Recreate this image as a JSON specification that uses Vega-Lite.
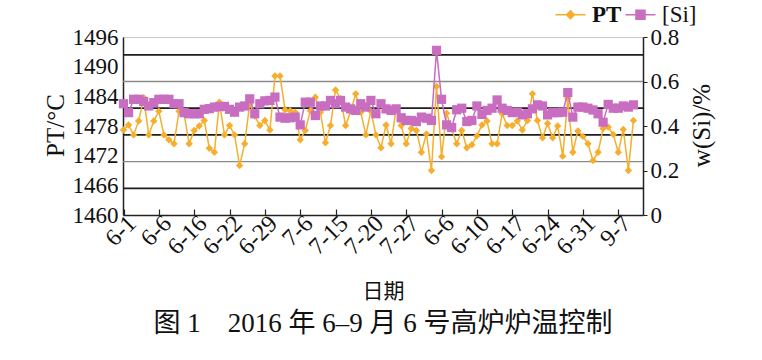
{
  "$schema": "https://vega.github.io/schema/vega-lite/v6.json",
  "width": 520,
  "height": 178,
  "autosize": {"type": "none"},
  "padding": {"left": 123, "top": 37, "right": 119, "bottom": 145},
  "background": "white",
  "config": {
    "view": {"stroke": "#c8c8c8", "strokeWidth": 1},
    "font": "Liberation Serif",
    "axis": {"labelFont": "Liberation Serif", "titleFont": "Liberation Serif", "labelColor": "#111", "titleColor": "#111", "domainColor": "#222", "tickColor": "#222", "domainWidth": 1.5, "grid": false, "titleFontWeight": "normal"}
  },
  "title": {
    "text": "图 1\u20032016 年 6–9 月 6 号高炉炉温控制",
    "orient": "bottom",
    "anchor": "middle",
    "font": "Liberation Serif, Noto Sans CJK SC",
    "fontSize": 27,
    "fontWeight": "normal",
    "color": "#111",
    "offset": 10
  },
  "datasets": {
    "grid": [
      {"g": 0.72, "kind": "dark"},
      {"g": 0.6, "kind": "light"},
      {"g": 0.48, "kind": "dark"},
      {"g": 0.36, "kind": "dark"},
      {"g": 0.24, "kind": "light"},
      {"g": 0.12, "kind": "dark"}
    ],
    "series": [
      {"i": 0, "PT": 1477.2, "Si": 0.5},
      {"i": 1, "PT": 1478.2, "Si": 0.46},
      {"i": 2, "PT": 1476.2, "Si": 0.52},
      {"i": 3, "PT": 1479.0, "Si": 0.52},
      {"i": 4, "PT": 1483.7, "Si": 0.51},
      {"i": 5, "PT": 1476.2, "Si": 0.49},
      {"i": 6, "PT": 1479.0, "Si": 0.505},
      {"i": 7, "PT": 1481.0, "Si": 0.52},
      {"i": 8, "PT": 1476.2, "Si": 0.52},
      {"i": 9, "PT": 1475.2, "Si": 0.52},
      {"i": 10, "PT": 1474.4, "Si": 0.5},
      {"i": 11, "PT": 1481.0, "Si": 0.5},
      {"i": 12, "PT": 1480.5, "Si": 0.46},
      {"i": 13, "PT": 1474.4, "Si": 0.455},
      {"i": 14, "PT": 1477.1, "Si": 0.455},
      {"i": 15, "PT": 1478.0, "Si": 0.455},
      {"i": 16, "PT": 1479.1, "Si": 0.475},
      {"i": 17, "PT": 1473.5, "Si": 0.478},
      {"i": 18, "PT": 1472.7, "Si": 0.485},
      {"i": 19, "PT": 1482.8, "Si": 0.487},
      {"i": 20, "PT": 1476.2, "Si": 0.488},
      {"i": 21, "PT": 1478.1, "Si": 0.475},
      {"i": 22, "PT": 1476.2, "Si": 0.462},
      {"i": 23, "PT": 1470.0, "Si": 0.485},
      {"i": 24, "PT": 1474.4, "Si": 0.49},
      {"i": 25, "PT": 1482.5, "Si": 0.522},
      {"i": 26, "PT": 1480.0, "Si": 0.455},
      {"i": 27, "PT": 1478.1, "Si": 0.5},
      {"i": 28, "PT": 1479.1, "Si": 0.513},
      {"i": 29, "PT": 1477.2, "Si": 0.515},
      {"i": 30, "PT": 1488.1, "Si": 0.53},
      {"i": 31, "PT": 1488.1, "Si": 0.44},
      {"i": 32, "PT": 1481.3, "Si": 0.435},
      {"i": 33, "PT": 1481.1, "Si": 0.437},
      {"i": 34, "PT": 1480.8, "Si": 0.44},
      {"i": 35, "PT": 1475.2, "Si": 0.405},
      {"i": 36, "PT": 1477.1, "Si": 0.507},
      {"i": 37, "PT": 1481.1, "Si": 0.507},
      {"i": 38, "PT": 1483.8, "Si": 0.447},
      {"i": 39, "PT": 1480.8, "Si": 0.49},
      {"i": 40, "PT": 1474.6, "Si": 0.49},
      {"i": 41, "PT": 1478.1, "Si": 0.515},
      {"i": 42, "PT": 1485.3, "Si": 0.5},
      {"i": 43, "PT": 1483.5, "Si": 0.515},
      {"i": 44, "PT": 1478.1, "Si": 0.485},
      {"i": 45, "PT": 1481.0, "Si": 0.477},
      {"i": 46, "PT": 1484.5, "Si": 0.47},
      {"i": 47, "PT": 1480.8, "Si": 0.5},
      {"i": 48, "PT": 1476.2, "Si": 0.485},
      {"i": 49, "PT": 1481.0, "Si": 0.515},
      {"i": 50, "PT": 1476.2, "Si": 0.455},
      {"i": 51, "PT": 1473.6, "Si": 0.5},
      {"i": 52, "PT": 1478.2, "Si": 0.477},
      {"i": 53, "PT": 1474.4, "Si": 0.47},
      {"i": 54, "PT": 1481.5, "Si": 0.477},
      {"i": 55, "PT": 1478.1, "Si": 0.437},
      {"i": 56, "PT": 1474.4, "Si": 0.425},
      {"i": 57, "PT": 1477.5, "Si": 0.425},
      {"i": 58, "PT": 1477.1, "Si": 0.42},
      {"i": 59, "PT": 1472.7, "Si": 0.44},
      {"i": 60, "PT": 1476.4, "Si": 0.435},
      {"i": 61, "PT": 1469.0, "Si": 0.425},
      {"i": 62, "PT": 1486.0, "Si": 0.74},
      {"i": 63, "PT": 1471.8, "Si": 0.52},
      {"i": 64, "PT": 1480.6, "Si": 0.405},
      {"i": 65, "PT": 1477.4, "Si": 0.393},
      {"i": 66, "PT": 1474.4, "Si": 0.473},
      {"i": 67, "PT": 1477.1, "Si": 0.48},
      {"i": 68, "PT": 1473.6, "Si": 0.42},
      {"i": 69, "PT": 1474.2, "Si": 0.425},
      {"i": 70, "PT": 1476.0, "Si": 0.49},
      {"i": 71, "PT": 1478.2, "Si": 0.452},
      {"i": 72, "PT": 1479.0, "Si": 0.47},
      {"i": 73, "PT": 1474.4, "Si": 0.48},
      {"i": 74, "PT": 1474.4, "Si": 0.517},
      {"i": 75, "PT": 1480.5, "Si": 0.48},
      {"i": 76, "PT": 1478.1, "Si": 0.47},
      {"i": 77, "PT": 1478.1, "Si": 0.46},
      {"i": 78, "PT": 1479.0, "Si": 0.462},
      {"i": 79, "PT": 1477.2, "Si": 0.45},
      {"i": 80, "PT": 1479.1, "Si": 0.455},
      {"i": 81, "PT": 1484.5, "Si": 0.477},
      {"i": 82, "PT": 1479.1, "Si": 0.495},
      {"i": 83, "PT": 1475.6, "Si": 0.49},
      {"i": 84, "PT": 1478.5, "Si": 0.45},
      {"i": 85, "PT": 1475.6, "Si": 0.46},
      {"i": 86, "PT": 1478.0, "Si": 0.46},
      {"i": 87, "PT": 1471.9, "Si": 0.462},
      {"i": 88, "PT": 1483.5, "Si": 0.55},
      {"i": 89, "PT": 1472.7, "Si": 0.44},
      {"i": 90, "PT": 1477.0, "Si": 0.485},
      {"i": 91, "PT": 1475.9, "Si": 0.485},
      {"i": 92, "PT": 1474.4, "Si": 0.48},
      {"i": 93, "PT": 1471.0, "Si": 0.472},
      {"i": 94, "PT": 1472.7, "Si": 0.455},
      {"i": 95, "PT": 1477.5, "Si": 0.417},
      {"i": 96, "PT": 1477.8, "Si": 0.497},
      {"i": 97, "PT": 1476.3, "Si": 0.48},
      {"i": 98, "PT": 1472.7, "Si": 0.48},
      {"i": 99, "PT": 1477.3, "Si": 0.49},
      {"i": 100, "PT": 1469.0, "Si": 0.485},
      {"i": 101, "PT": 1479.1, "Si": 0.495}
    ]
  },
  "data": {"name": "series"},
  "layer": [
    {
      "data": {"name": "grid"},
      "mark": {"type": "rule"},
      "encoding": {
        "y": {"field": "g", "type": "quantitative", "scale": {"domain": [0, 0.8], "nice": false, "zero": false}, "axis": null},
        "stroke": {"field": "kind", "type": "nominal", "scale": {"domain": ["dark", "light"], "range": ["#1e1e1e", "#8a8a8a"]}, "legend": null},
        "strokeWidth": {"field": "kind", "type": "nominal", "scale": {"domain": ["dark", "light"], "range": [1.8, 1.3]}, "legend": null}
      }
    },
    {
      "encoding": {
        "x": {
          "field": "i", "type": "quantitative",
          "scale": {"domain": [-0.1, 102.9], "nice": false, "zero": false},
          "axis": {
            "values": [0, 7, 14, 21, 28, 35, 42, 49, 56, 63, 70, 77, 84, 91, 98],
            "labelExpr": "['6-1','6-6','6-16','6-22','6-29','7-6','7-15','7-20','7-27','6-6','6-10','6-17','6-24','6-31','9-7'][round(datum.value/7)]",
            "labelAngle": -45,
            "labelAlign": "right",
            "labelBaseline": "top",
            "labelFontSize": 24,
            "labelPadding": 2,
            "labelOverlap": false,
            "labelSeparation": -100,
            "labelBound": false,
            "labelFlush": false,
            "tickSize": -6,
            "tickWidth": 1.2,
            "title": "日期",
            "titleFont": "Noto Sans CJK SC",
            "titleFontSize": 21,
            "titlePadding": 21
          }
        },
        "y": {
          "field": "PT", "type": "quantitative",
          "scale": {"domain": [1460, 1496], "nice": false, "zero": false},
          "axis": {
            "orient": "left",
            "values": [1460, 1466, 1472, 1478, 1484, 1490, 1496],
            "labelExpr": "format(datum.value, 'd')",
            "ticks": false,
            "labelFontSize": 23,
            "labelPadding": 5,
            "labelBound": false,
            "title": "PT/°C",
            "titleFontSize": 25,
            "titleAngle": 270,
            "titleAlign": "center",
            "titleBaseline": "middle",
            "titleX": -68,
            "titleY": 88
          }
        },
        "color": {
          "datum": "PT", "type": "nominal",
          "scale": {"domain": ["PT", "[Si]"], "range": ["#F6AE2D", "#C86DC0"]},
          "legend": {
            "orient": "none",
            "legendX": 436,
            "legendY": -34,
            "direction": "horizontal",
            "title": null,
            "padding": 0,
            "symbolSize": 100,
            "symbolStrokeWidth": 1.5,
            "labelFont": "Liberation Serif",
            "labelFontSize": 23,
            "labelColor": "#111",
            "labelOffset": 10,
            "columnPadding": 0,
            "encode": {
              "symbols": {"update": {
                "shape": {"signal": "datum.value === 'PT' ? 'M-3,0H3M0,-0.8L0.8,0L0,0.8L-0.8,0Z' : 'M-3,0H3M-0.9,-0.9H0.9V0.9H-0.9Z'"},
                "fill": {"signal": "datum.value === 'PT' ? '#F6AE2D' : '#C86DC0'"},
                "stroke": {"signal": "datum.value === 'PT' ? '#F6AE2D' : '#C86DC0'"},
                "opacity": {"value": 1}
              }},
              "labels": {"update": {"fontWeight": {"signal": "datum.value === 'PT' ? 'bold' : 'normal'"}}}
            }
          }
        }
      },
      "layer": [
        {"mark": {"type": "line", "strokeWidth": 1.5}},
        {"mark": {"type": "point", "shape": "diamond", "filled": true, "size": 55, "opacity": 1}}
      ]
    },
    {
      "encoding": {
        "x": {
          "field": "i", "type": "quantitative",
          "axis": {
            "values": [0, 7, 14, 21, 28, 35, 42, 49, 56, 63, 70, 77, 84, 91, 98],
            "labelExpr": "['6-1','6-6','6-16','6-22','6-29','7-6','7-15','7-20','7-27','6-6','6-10','6-17','6-24','6-31','9-7'][round(datum.value/7)]",
            "labelAngle": -45,
            "labelAlign": "right",
            "labelBaseline": "top",
            "labelFontSize": 24,
            "labelPadding": 2,
            "labelOverlap": false,
            "labelSeparation": -100,
            "labelBound": false,
            "labelFlush": false,
            "tickSize": -6,
            "tickWidth": 1.2,
            "title": "日期",
            "titleFont": "Noto Sans CJK SC",
            "titleFontSize": 21,
            "titlePadding": 21
          }
        },
        "y": {
          "field": "Si", "type": "quantitative",
          "scale": {"domain": [0, 0.8], "nice": false, "zero": false},
          "axis": {
            "orient": "right",
            "values": [0, 0.2, 0.4, 0.6, 0.8],
            "labelExpr": "datum.value == 0 ? '0' : format(datum.value, '.1f')",
            "tickSize": 4,
            "labelFontSize": 23,
            "labelPadding": 3,
            "labelBound": false,
            "title": "w(Si)/%",
            "titleFontSize": 25,
            "titleAngle": 270,
            "titleAlign": "center",
            "titleBaseline": "middle",
            "titleX": 58,
            "titleY": 88
          }
        },
        "color": {"datum": "[Si]", "type": "nominal"}
      },
      "layer": [
        {"mark": {"type": "line", "strokeWidth": 1.5}},
        {"mark": {"type": "point", "shape": "square", "filled": true, "size": 85, "opacity": 1}}
      ]
    }
  ],
  "resolve": {"scale": {"y": "independent"}, "axis": {"y": "independent"}}
}
